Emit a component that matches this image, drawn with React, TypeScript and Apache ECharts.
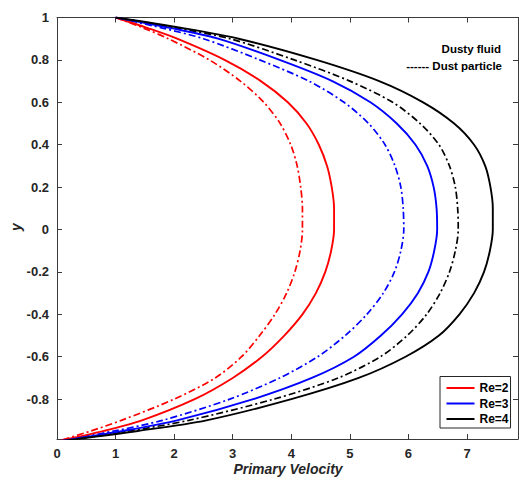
import { useEffect, useRef } from "react";
import * as echarts from "echarts";

// y positions shared by every curve (top wall to bottom wall)
const yLevels = [1, 0.95, 0.9, 0.8, 0.7, 0.6, 0.5, 0.4, 0.3, 0.2, 0.1, 0, -0.1, -0.2, -0.3, -0.4, -0.5, -0.6, -0.7, -0.8, -0.9, -0.95, -1];

// Dusty fluid (solid lines) primary velocity
const fluidRe2 = [1.0, 1.55, 2.05, 2.86, 3.48, 3.94, 4.26, 4.47, 4.61, 4.69, 4.73, 4.73, 4.68, 4.58, 4.42, 4.19, 3.88, 3.5, 3.0, 2.35, 1.45, 0.8, 0];
const fluidRe3 = [1.0, 1.95, 2.75, 3.8, 4.7, 5.35, 5.8, 6.12, 6.32, 6.43, 6.48, 6.49, 6.44, 6.34, 6.16, 5.89, 5.53, 5.07, 4.35, 3.35, 2.05, 1.12, 0];
const fluidRe4 = [1.0, 2.15, 3.1, 4.43, 5.5, 6.25, 6.78, 7.12, 7.31, 7.4, 7.44, 7.44, 7.39, 7.29, 7.12, 6.87, 6.52, 5.95, 5.15, 4.0, 2.55, 1.38, 0];

// Dust particle (dash-dot lines) primary velocity
const dustRe2 = [1.0, 1.48, 1.9, 2.6, 3.13, 3.53, 3.81, 3.99, 4.1, 4.16, 4.19, 4.19, 4.15, 4.06, 3.92, 3.72, 3.46, 3.15, 2.7, 2.0, 1.1, 0.58, 0];
const dustRe3 = [1.0, 1.8, 2.5, 3.46, 4.3, 4.9, 5.32, 5.6, 5.77, 5.87, 5.91, 5.92, 5.87, 5.76, 5.57, 5.29, 4.92, 4.45, 3.8, 2.95, 1.8, 0.98, 0];
const dustRe4 = [1.0, 2.05, 2.95, 4.05, 5.0, 5.73, 6.2, 6.52, 6.7, 6.8, 6.84, 6.85, 6.8, 6.7, 6.54, 6.31, 5.98, 5.52, 4.8, 3.7, 2.25, 1.23, 0];

const seriesNames = ["Re=2", "Re=3", "Re=4"];
const seriesColors = ["#ff0000", "#0000ff", "#000000"];

const xTicks = [0, 1, 2, 3, 4, 5, 6, 7];
const yTicks = [-0.8, -0.6, -0.4, -0.2, 0, 0.2, 0.4, 0.6, 0.8, 1];

const X_MIN = 0;
const X_MAX = 7.87;
const Y_MIN = -0.988;
const Y_MAX = 1;

const FONT = "'Liberation Sans', Arial, Helvetica, sans-serif";
const AXIS_COLOR = "#3a3a3a";

function pairs(xs: number[]) {
  return xs.map((x, i) => [x, yLevels[i]]);
}

export default function App() {
  const ref = useRef<HTMLDivElement>(null);

  useEffect(() => {
    if (!ref.current) return;
    const chart = echarts.init(ref.current, undefined, { renderer: "svg" });

    const fluid = [fluidRe2, fluidRe3, fluidRe4];
    const dust = [dustRe2, dustRe3, dustRe4];

    const series: any[] = [];
    dust.forEach((d, i) => {
      series.push({
        type: "line",
        name: seriesNames[i] + " dust",
        data: pairs(d),
        xAxisIndex: 0,
        yAxisIndex: 0,
        symbol: "none",
        smooth: 0.3,
        clip: true,
        lineStyle: { color: seriesColors[i], width: 1.7, type: [7, 3, 2, 3] },
        itemStyle: { color: seriesColors[i] },
        z: 2,
      });
    });
    fluid.forEach((d, i) => {
      series.push({
        type: "line",
        name: seriesNames[i],
        data: pairs(d),
        xAxisIndex: 0,
        yAxisIndex: 0,
        symbol: "none",
        smooth: 0.3,
        clip: true,
        lineStyle: { color: seriesColors[i], width: 1.9, type: "solid" },
        itemStyle: { color: seriesColors[i] },
        z: 3,
      });
    });

    const tickStyle = { color: AXIS_COLOR, width: 1 };
    const labelStyle = {
      fontSize: 13,
      fontWeight: "bold" as const,
      color: "#262626",
      fontFamily: FONT,
    };

    chart.setOption({
      animation: false,
      backgroundColor: "#ffffff",
      grid: { left: 57, right: 1, top: 17.5, bottom: 44, containLabel: false },
      xAxis: [
        {
          type: "value",
          min: X_MIN,
          max: X_MAX,
          position: "bottom",
          axisLine: { show: true, onZero: false, lineStyle: tickStyle },
          axisTick: { show: true, inside: true, length: 5, customValues: xTicks, lineStyle: tickStyle },
          axisLabel: { ...labelStyle, margin: 8, customValues: xTicks },
          splitLine: { show: false },
        },
        {
          type: "value",
          min: X_MIN,
          max: X_MAX,
          position: "top",
          axisLine: { show: true, onZero: false, lineStyle: tickStyle },
          axisTick: { show: true, inside: true, length: 5, customValues: xTicks, lineStyle: tickStyle },
          axisLabel: { show: false },
          splitLine: { show: false },
        },
      ],
      yAxis: [
        {
          type: "value",
          min: Y_MIN,
          max: Y_MAX,
          position: "left",
          axisLine: { show: true, onZero: false, lineStyle: tickStyle },
          axisTick: { show: true, inside: true, length: 5, customValues: yTicks, lineStyle: tickStyle },
          axisLabel: {
            ...labelStyle,
            margin: 8,
            customValues: yTicks,
            formatter: (v: number) => String(Math.round(v * 10) / 10),
          },
          splitLine: { show: false },
        },
        {
          type: "value",
          min: Y_MIN,
          max: Y_MAX,
          position: "right",
          axisLine: { show: true, onZero: false, lineStyle: tickStyle },
          axisTick: { show: true, inside: true, length: 5, customValues: yTicks, lineStyle: tickStyle },
          axisLabel: { show: false },
          splitLine: { show: false },
        },
      ],
      legend: {
        data: seriesNames,
        orient: "vertical",
        left: 440,
        top: 376.5,
        itemWidth: 28,
        itemHeight: 12,
        itemGap: 3.5,
        padding: [5.5, 2, 3, 5.5],
        borderColor: "#262626",
        borderWidth: 1,
        backgroundColor: "#ffffff",
        itemStyle: { opacity: 0 },
        lineStyle: { width: 2 },
        textStyle: { fontSize: 12, fontWeight: "bold", color: "#000000", fontFamily: FONT },
      },
      graphic: [
        {
          type: "text",
          x: 501,
          y: 49,
          style: {
            text: "Dusty fluid",
            fontSize: 11.5,
            fontWeight: "bold",
            fontFamily: FONT,
            fill: "#000000",
            align: "right",
            verticalAlign: "middle",
          },
        },
        {
          type: "text",
          x: 502,
          y: 65.5,
          style: {
            text: "------ Dust particle",
            fontSize: 11.5,
            fontWeight: "bold",
            fontFamily: FONT,
            fill: "#000000",
            align: "right",
            verticalAlign: "middle",
          },
        },
        {
          type: "text",
          x: 288,
          y: 469,
          style: {
            text: "Primary Velocity",
            fontSize: 14,
            fontWeight: "bold",
            fontStyle: "italic",
            fontFamily: FONT,
            fill: "#262626",
            align: "center",
            verticalAlign: "middle",
          },
        },
        {
          type: "text",
          x: 16,
          y: 227,
          rotation: Math.PI / 2,
          style: {
            text: "y",
            fontSize: 14,
            fontWeight: "bold",
            fontStyle: "italic",
            fontFamily: FONT,
            fill: "#262626",
            align: "center",
            verticalAlign: "middle",
          },
        },
      ],
      series,
    });

    return () => {
      chart.dispose();
    };
  }, []);

  return (
    <div
      ref={ref}
      style={{ position: "absolute", left: 0, top: 0, width: 519, height: 483 }}
    />
  );
}
